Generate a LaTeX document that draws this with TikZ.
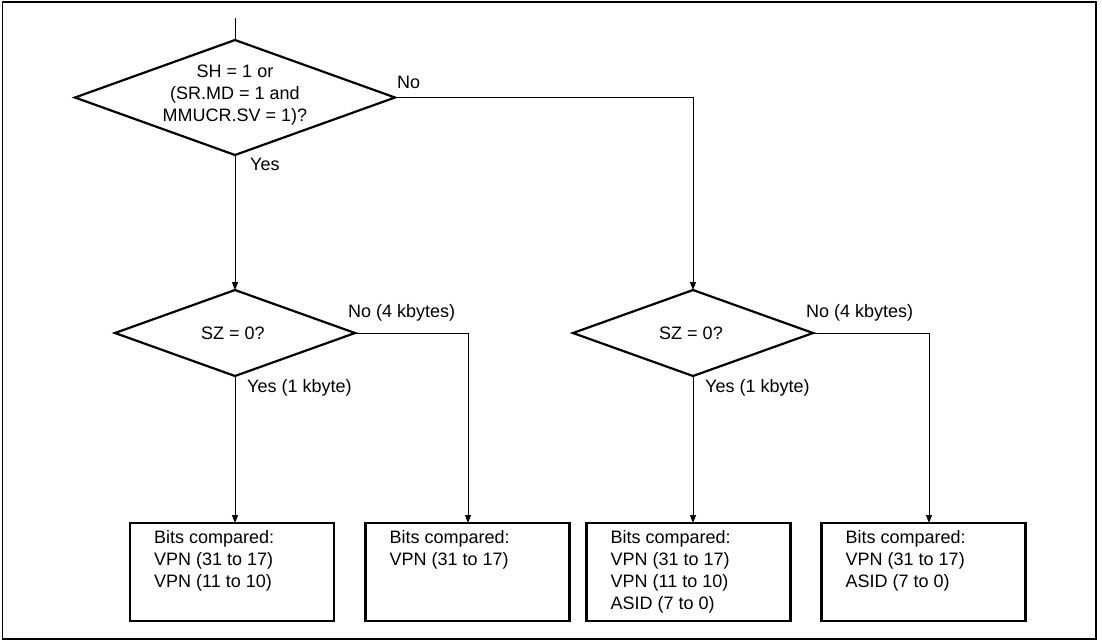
\documentclass[tikz,border=0pt]{standalone}
\usepackage{fontspec}
\setmainfont{Liberation Sans}
\usetikzlibrary{shapes.geometric,arrows.meta}
\tikzset{
  dia/.style={diamond,draw,line width=2.2pt,inner sep=0pt,outer sep=0pt},
  boxn/.style={rectangle,draw,line width=2.2pt,minimum width=204pt,minimum height=98pt,inner sep=0pt,outer sep=0pt},
  txt/.style={inner sep=0pt,font=\fontsize{18}{22}\selectfont},
  conn/.style={line width=1pt},
  arr/.style={conn,-{Triangle[length=8pt,width=6pt]}}
}
\begin{document}
\begin{tikzpicture}[x=1pt,y=-1pt]
\useasboundingbox (0,0) rectangle (1102,641);
\draw[line width=1.8pt] (2.5,2) rectangle (1096,639);
% decisions
\node[dia,minimum width=320pt,minimum height=115pt] (d1) at (235,97.5) {};
\node[txt,align=center] (d1t) at (235,95.5) {SH = 1 or\\(SR.MD = 1 and\\MMUCR.SV = 1)?};
\node[dia,minimum width=240pt,minimum height=86pt] (d2) at (235,333) {};
\node[txt] (d2t) at (233,333) {SZ = 0?};
\node[dia,minimum width=240pt,minimum height=86pt] (d3) at (693,333) {};
\node[txt] (d3t) at (691,333) {SZ = 0?};
% boxes
\node[boxn] (b1) at (232,572) {};
\node[boxn] (b2) at (467.5,572) {};
\node[boxn] (b3) at (688.5,572) {};
\node[boxn] (b4) at (923.5,572) {};
\node[txt,align=left,anchor=north west] (b1t) at ([shift={(24,7)}]b1.north west) {Bits compared:\\VPN (31 to 17)\\VPN (11 to 10)};
\node[txt,align=left,anchor=north west] (b2t) at ([shift={(24,7)}]b2.north west) {Bits compared:\\VPN (31 to 17)};
\node[txt,align=left,anchor=north west] (b3t) at ([shift={(24,7)}]b3.north west) {Bits compared:\\VPN (31 to 17)\\VPN (11 to 10)\\ASID (7 to 0)};
\node[txt,align=left,anchor=north west] (b4t) at ([shift={(24,7)}]b4.north west) {Bits compared:\\VPN (31 to 17)\\ASID (7 to 0)};
% labels
\node[txt,anchor=west] (lno1) at (397,82) {No};
\node[txt,anchor=west] (lyes1) at (250,164) {Yes};
\node[txt,anchor=west] (lno2) at (348,313) {No (4 kbytes)};
\node[txt,anchor=west] (lyes2) at (247,388) {Yes (1 kbyte)};
\node[txt,anchor=west] (lno3) at (806,313) {No (4 kbytes)};
\node[txt,anchor=west] (lyes3) at (705,388) {Yes (1 kbyte)};
% connectors
\coordinate (s) at (235,18);
\coordinate (c2) at (468,333);
\coordinate (c3) at (929,333);
\draw[conn] (s) -- (d1.north);
\draw[arr] (d1.south) -- (d2.north);
\draw[arr] (d1.east) -- (d3.north |- d1.east) -- (d3.north);
\draw[arr] (d2.south) -- (d2.south |- b1.north);
\draw[arr] (d2.east) -- (c2) -- (c2 |- b2.north);
\draw[arr] (d3.south) -- (d3.south |- b3.north);
\draw[arr] (d3.east) -- (c3) -- (c3 |- b4.north);
\end{tikzpicture}
\end{document}
